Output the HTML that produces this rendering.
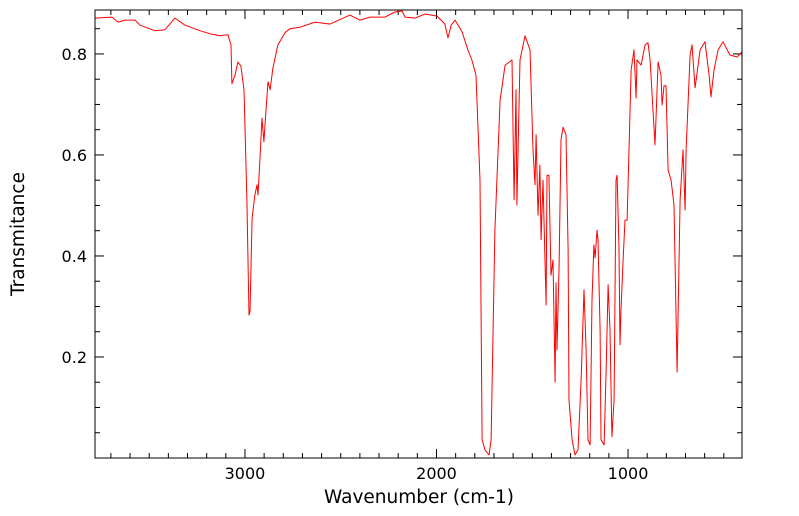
<!DOCTYPE html>
<html><head><meta charset="utf-8"><style>
body{margin:0;background:#fff;width:799px;height:516px;overflow:hidden}
svg{display:block;font-family:"DejaVu Sans","Liberation Sans",sans-serif}
</style></head><body>
<svg id="chart" width="799" height="516"></svg>
<script>
const wavenumbers=[3783,3694,3663,3627,3574,3548,3470,3418,3366,3313,3235,3183,3131,3089,3073,3068,3052,3037,3021,3005,2990,2979,2974,2963,2948,2937,2932,2922,2911,2901,2890,2880,2869,2854,2828,2791,2765,2713,2634,2556,2452,2400,2347,2269,2217,2180,2164,2112,2060,1997,1956,1940,1924,1903,1867,1836,1815,1794,1773,1762,1747,1726,1715,1695,1668,1642,1606,1595,1585,1580,1564,1538,1512,1496,1486,1480,1470,1460,1454,1444,1428,1423,1413,1402,1392,1381,1376,1371,1360,1350,1339,1324,1313,1308,1292,1277,1261,1245,1230,1219,1209,1198,1188,1178,1172,1162,1157,1146,1141,1125,1115,1104,1094,1084,1073,1063,1057,1047,1042,1037,1026,1016,1005,995,984,969,958,953,932,911,896,885,859,843,828,822,812,802,791,775,760,744,728,713,702,697,676,666,650,624,598,577,567,551,530,504,468,431,405];
const transmittance=[0.871,0.873,0.863,0.867,0.867,0.857,0.846,0.848,0.871,0.857,0.846,0.840,0.836,0.838,0.818,0.741,0.758,0.784,0.776,0.729,0.511,0.283,0.290,0.475,0.521,0.541,0.521,0.590,0.673,0.626,0.689,0.745,0.729,0.772,0.818,0.842,0.850,0.853,0.863,0.859,0.877,0.867,0.873,0.873,0.883,0.885,0.873,0.871,0.879,0.875,0.859,0.832,0.857,0.867,0.844,0.808,0.788,0.758,0.550,0.036,0.016,0.006,0.036,0.451,0.709,0.778,0.788,0.511,0.729,0.501,0.788,0.836,0.808,0.610,0.541,0.640,0.481,0.580,0.432,0.550,0.303,0.560,0.560,0.362,0.392,0.150,0.347,0.214,0.382,0.630,0.655,0.640,0.412,0.115,0.036,0.006,0.016,0.154,0.333,0.214,0.036,0.026,0.313,0.422,0.396,0.451,0.432,0.253,0.036,0.026,0.164,0.343,0.253,0.042,0.115,0.550,0.560,0.412,0.224,0.293,0.392,0.471,0.471,0.610,0.768,0.808,0.713,0.788,0.778,0.818,0.822,0.788,0.620,0.784,0.758,0.699,0.737,0.737,0.570,0.550,0.501,0.170,0.511,0.610,0.491,0.610,0.798,0.818,0.733,0.808,0.824,0.758,0.715,0.768,0.808,0.824,0.798,0.794,0.804];
const xTickLabels=[3000,2000,1000];
const yTickLabels=[0.2,0.4,0.6,0.8];
const X0=95,X1=742,Y0=10,Y1=458;
const W_MAX=3783,W_MIN=405,T_MIN=0,T_MAX=0.887;
const xs=w=>X0+(W_MAX-w)/(W_MAX-W_MIN)*(X1-X0);
const ys=t=>Y1-(t-T_MIN)/(T_MAX-T_MIN)*(Y1-Y0);
const NS="http://www.w3.org/2000/svg";
const svg=document.getElementById('chart');
function mk(tag,attrs){const e=document.createElementNS(NS,tag);for(const k in attrs)e.setAttribute(k,attrs[k]);svg.appendChild(e);return e;}
for(let w=500;w<=3700;w+=100){const x=xs(w);const L=(w%1000===0)?9:5;
 const a=mk('line',{x1:x,x2:x,y1:Y1,y2:Y1-L,stroke:'#000'});
 const b=mk('line',{x1:x,x2:x,y1:Y0,y2:Y0+L,stroke:'#000'});}
for(let i=1;i<=17;i++){const t=i*0.05;const y=ys(t);const L=(i%4===0)?9:5;
 const a=mk('line',{x1:X0,x2:X0+L,y1:y,y2:y,stroke:'#000'});
 const b=mk('line',{x1:X1,x2:X1-L,y1:y,y2:y,stroke:'#000'});}
xTickLabels.forEach(v=>{const t=mk('text',{x:xs(v),y:479,'text-anchor':'middle','font-size':16});t.textContent=v;
 });
yTickLabels.forEach(v=>{const t=mk('text',{x:87,y:ys(v)+6,'text-anchor':'end','font-size':16});t.textContent=v.toFixed(1);
 });
const pts=wavenumbers.map((w,i)=>xs(w).toFixed(1)+','+ys(transmittance[i]).toFixed(1)).join(' ');
const pl=mk('polyline',{points:pts,fill:'none',stroke:'#ff0000','stroke-width':1,'stroke-linejoin':'round'});


const fr=mk('rect',{x:X0,y:Y0,width:X1-X0,height:Y1-Y0,fill:'none',stroke:'#000'});


const xt=mk('text',{x:419,y:503,'text-anchor':'middle','font-size':18.5});xt.textContent='Wavenumber (cm-1)';


const yt=mk('text',{x:0,y:0,'text-anchor':'middle','font-size':18.5,transform:'translate(24,234) rotate(-90)'});yt.textContent='Transmitance';


</script>
</body></html>
